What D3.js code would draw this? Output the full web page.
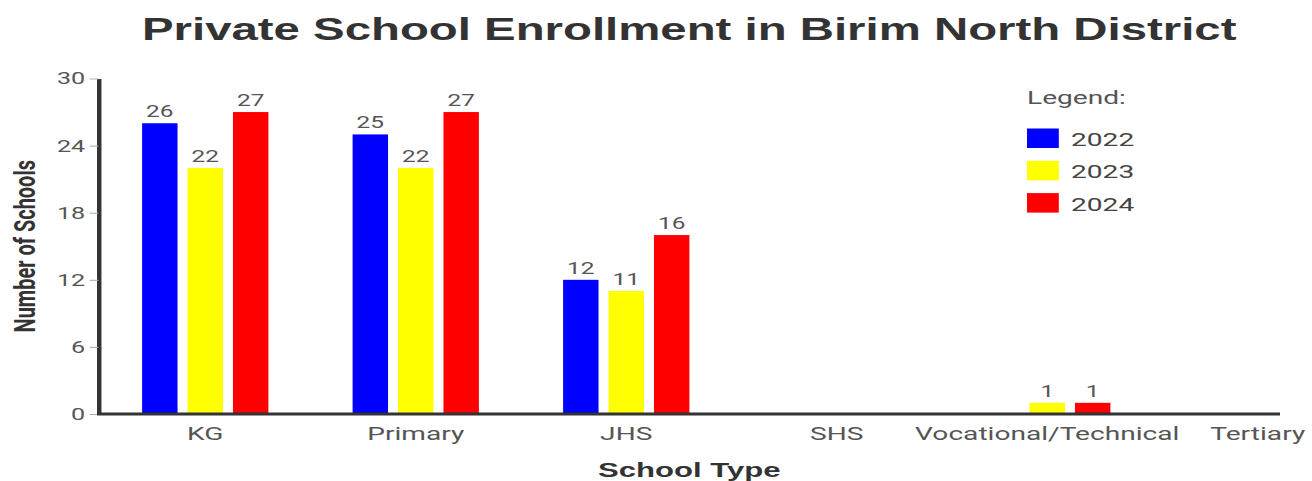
<!DOCTYPE html>
<html>
<head>
<meta charset="utf-8">
<script src="https://cdn.jsdelivr.net/npm/d3@7"></script>
<style>
  html, body { margin: 0; padding: 0; background: #fff; }
  svg { display: block; }
</style>
</head>
<body>
<svg id="chart" width="1312" height="481"></svg>
<script>
// Chart data
const categories = ["KG", "Primary", "JHS", "SHS", "Vocational/Technical", "Tertiary"];
const years = ["2022", "2023", "2024"];
const values2022 = [26, 25, 12, 0, 0, 0];
const values2023 = [22, 22, 11, 0, 1, 0];
const values2024 = [27, 27, 16, 0, 1, 0];
const yTicks = [0, 6, 12, 18, 24, 30];
const yearColors = ["#0000ff", "#ffff00", "#ff0000"];

const seriesByYear = [values2022, values2023, values2024];
const rows = categories.map((c, i) => ({
  category: c,
  values: years.map((y, j) => ({ year: y, value: seriesByYear[j][i] }))
}));

// The drawing is laid out in a horizontally widened coordinate space.
const SX = 1.48;
const svg = d3.select("#chart");
const g = svg.append("g").attr("transform", `scale(${SX},1)`);

const plotLeft = 98.5 / SX;
const plotRight = 1280 / SX;
const plotTop = 78.5;
const plotBottom = 414;

const x0 = d3.scaleBand()
  .domain(categories)
  .range([100 / SX, 1363 / SX])
  .paddingInner(0.4)
  .paddingOuter(0.2);

const x1 = d3.scaleBand()
  .domain(years)
  .range([0, x0.bandwidth()])
  .paddingInner(0.22);

const y = d3.scaleLinear().domain([0, 30]).range([plotBottom, plotTop]);
const color = d3.scaleOrdinal().domain(years).range(yearColors);

// Title
g.append("text")
  .attr("x", (plotLeft + plotRight) / 2)
  .attr("y", 40)
  .attr("text-anchor", "middle")
  .attr("font-family", "'Liberation Sans', Arial, sans-serif")
  .attr("font-weight", "bold")
  .attr("font-size", 32)
  .attr("fill", "#333")
  .text("Private School Enrollment in Birim North District");

// Y axis
const yAxis = g.append("g")
  .attr("transform", `translate(${plotLeft},0)`)
  .call(d3.axisLeft(y).tickValues(yTicks).tickSize(6).tickSizeOuter(0).tickPadding(3));
yAxis.select(".domain").attr("stroke", "#333").attr("stroke-width", 3);
yAxis.selectAll(".tick line").attr("stroke", "#aaa").attr("stroke-width", 1);
yAxis.selectAll(".tick text")
  .attr("font-family", "Roboto, sans-serif")
  .attr("font-size", 17)
  .attr("fill", "#555");

// Bars
const groups = g.append("g").selectAll("g")
  .data(rows)
  .join("g")
  .attr("transform", d => `translate(${x0(d.category)},0)`);

groups.selectAll("rect")
  .data(d => d.values)
  .join("rect")
  .attr("x", d => x1(d.year))
  .attr("y", d => y(d.value))
  .attr("width", x1.bandwidth())
  .attr("height", d => y(0) - y(d.value))
  .attr("fill", d => color(d.year));

groups.selectAll("text")
  .data(d => d.values.filter(v => v.value > 0))
  .join("text")
  .attr("x", d => x1(d.year) + x1.bandwidth() / 2)
  .attr("y", d => y(d.value) - 6)
  .attr("text-anchor", "middle")
  .attr("font-family", "Roboto, sans-serif")
  .attr("font-size", 16.5)
  .attr("fill", "#555")
  .text(d => d.value);

// X axis baseline and category labels
g.append("line")
  .attr("x1", plotLeft - 1)
  .attr("x2", plotRight)
  .attr("y1", plotBottom)
  .attr("y2", plotBottom)
  .attr("stroke", "#333")
  .attr("stroke-width", 3);

const xAxis = g.append("g")
  .attr("transform", `translate(0,${plotBottom})`)
  .call(d3.axisBottom(x0).tickSize(0).tickPadding(26));
xAxis.select(".domain").remove();
xAxis.selectAll(".tick text")
  .attr("dy", 0)
  .attr("font-family", "Roboto, sans-serif")
  .attr("font-size", 19)
  .attr("fill", "#555");

// Axis titles
g.append("text")
  .attr("x", (plotLeft + plotRight) / 2)
  .attr("y", 477)
  .attr("text-anchor", "middle")
  .attr("font-family", "'Liberation Sans', Arial, sans-serif")
  .attr("font-weight", "bold")
  .attr("font-size", 21)
  .attr("fill", "#333")
  .text("School Type");

g.append("text")
  .attr("transform", `translate(${35 / SX},${(plotTop + plotBottom) / 2}) rotate(-90)`)
  .attr("text-anchor", "middle")
  .attr("font-family", "Roboto, sans-serif")
  .attr("font-weight", "bold")
  .attr("font-size", 20)
  .attr("fill", "#333")
  .text("Number of Schools");

// Legend
const legend = g.append("g").attr("transform", `translate(${1027 / SX},0)`);
legend.append("text")
  .attr("x", 0)
  .attr("y", 104)
  .attr("font-family", "Roboto, sans-serif")
  .attr("font-size", 19)
  .attr("fill", "#555")
  .text("Legend:");

const legendItems = legend.selectAll("g.item")
  .data(years)
  .join("g")
  .attr("class", "item")
  .attr("transform", (d, i) => `translate(0,${128.5 + i * 32.3})`);
legendItems.append("rect")
  .attr("width", 21.5)
  .attr("height", 19.5)
  .attr("fill", d => color(d));
legendItems.append("text")
  .attr("x", (1071 - 1027) / SX)
  .attr("y", 17.5)
  .attr("font-family", "Roboto, sans-serif")
  .attr("font-size", 19)
  .attr("fill", "#444")
  .text(d => d);
</script>
</body>
</html>
